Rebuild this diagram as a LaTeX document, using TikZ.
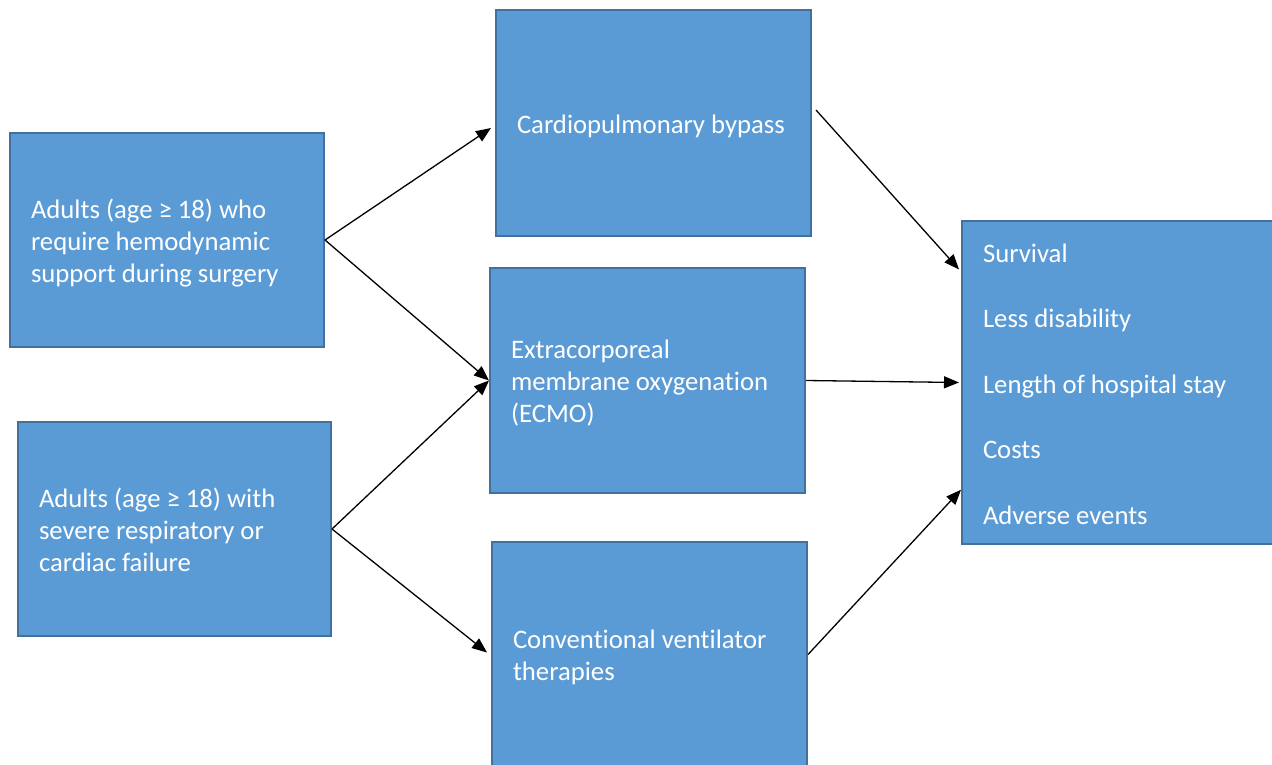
\documentclass[tikz,border=0pt]{standalone}
\usepackage{fontspec}
\setmainfont{Carlito}[Ligatures=NoCommon]
\usetikzlibrary{arrows.meta,calc}
\definecolor{boxfill}{HTML}{5B9BD5}
\definecolor{boxline}{HTML}{41719C}
\newcommand\naturalspaces{\spaceskip=0pt\xspaceskip=0pt\relax}
\tikzset{
  box/.style={draw=boxline, line width=2pt, fill=boxfill, rectangle,
    inner sep=0pt},
  boxtext/.style={text=white, align=left, inner xsep=21pt, inner ysep=0pt,
    font=\fontsize{26.7}{32}\selectfont,
    execute at begin node=\naturalspaces},
  link/.style={line width=1.3pt, -{Triangle[length=15pt,width=12pt]}}
}
\begin{document}
\begin{tikzpicture}[x=1pt,y=-1pt]
\useasboundingbox (0,0) rectangle (1272,765);
\clip (0,0) rectangle (1272,765);
\fill[white] (0,0) rectangle (1272,765);

% populations
\node[box, minimum width=314pt, minimum height=214pt] (A1) at (167,240) {};
\node[boxtext, text width=272pt] (A1t) at ($(A1.center)+(0,3)$)
  {Adults (age ≥ 18) who\\require hemodynamic\\support during surgery};
\node[box, minimum width=313pt, minimum height=214pt] (A2) at (174.5,529) {};
\node[boxtext, text width=271pt] (A2t) at ($(A2.center)+(0,1)$)
  {Adults (age ≥ 18) with\\severe respiratory or\\cardiac failure};

% interventions
\node[box, minimum width=315pt, minimum height=226pt] (B1) at (653.5,123) {};
\node[boxtext, text width=273pt] (B1t) at ($(B1.center)+(0,3)$)
  {Cardiopulmonary bypass};
\node[box, minimum width=315pt, minimum height=225pt] (B2) at (647.5,380.5) {};
\node[boxtext, text width=273pt] (B2t) at ($(B2.center)+(0,3)$)
  {Extracorporeal\\membrane oxygenation\\(ECMO)};
\node[box, minimum width=315pt, minimum height=225pt] (B3) at (649.5,654.5) {};
\node[boxtext, text width=273pt] (B3t) at ($(B3.center)+(0,3)$)
  {Conventional ventilator\\therapies};

% outcomes
\node[box, minimum width=312pt, minimum height=323pt] (C) at (1118,382.5) {};
\node[boxtext, text width=270pt] (Ct) at ($(C.center)+(0,1.5)$)
  {Survival\\[33.5pt]Less disability\\[33.5pt]Length of hospital stay\\[33.5pt]Costs\\[33.5pt]Adverse events};

% connectors
\draw[link] (A1.east) -- ($(B1.west)+(-4,5)$);
\draw[link] (A1.east) -- (B2.west);
\draw[link] (A2.east) -- (B2.west);
\draw[link] (A2.east) -- ($(B3.west)+(-4,-2)$);
\draw[link] ($(B1.east)+(4,-13)$) -- ($(C.north west)!0.152!(C.south west)+(-2,0)$);
\draw[link] (B2.east) -- ($(C.west)+(-2,0)$);
\draw[link] (B3.east) -- ($(C.north west)!0.83!(C.south west)$);
\end{tikzpicture}
\end{document}
